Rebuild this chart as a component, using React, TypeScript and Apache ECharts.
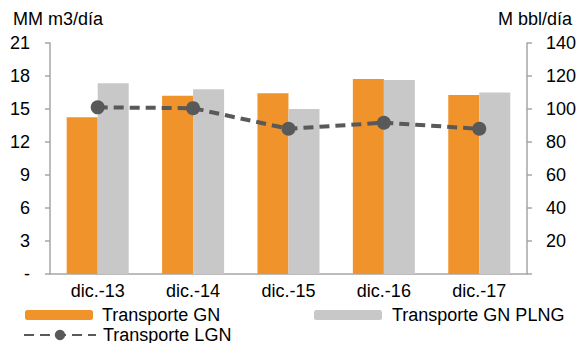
import React, { useEffect, useRef } from "react";
import * as echarts from "echarts";

const categories = ["dic.-13", "dic.-14", "dic.-15", "dic.-16", "dic.-17"];
const transporteGN = [14.25, 16.2, 16.43, 17.73, 16.27];
const transportePLNG = [17.34, 16.8, 15.0, 17.64, 16.5];
const transporteLGN = [101, 100.5, 88, 91.7, 88];

const FONT = "'Liberation Sans', Arial, sans-serif";
const FS = 18;

export default function App() {
  const ref = useRef<HTMLDivElement>(null);
  useEffect(() => {
    const chart = echarts.init(ref.current!, null, { renderer: "svg" });
    const axisLine = { show: true, lineStyle: { color: "#a6a6a6", width: 1.5 } };
    const tick = { show: true, length: 5, lineStyle: { color: "#a6a6a6", width: 1.5 } };
    const text = { color: "#000", fontSize: FS, fontFamily: FONT };
    chart.setOption({
      animation: false,
      textStyle: { fontFamily: FONT },
      grid: { left: 50, right: 50, top: 43, bottom: 69 },
      xAxis: {
        type: "category",
        data: categories,
        axisLine,
        axisTick: { show: false },
        axisLabel: { ...text, margin: 8 },
      },
      yAxis: [
        {
          type: "value",
          min: 0,
          max: 21,
          interval: 3,
          name: "MM m3/día",
          nameLocation: "end",
          nameGap: 15,
          nameTextStyle: { ...text, align: "left", padding: [0, 0, 0, -37] },
          axisLine,
          axisTick: tick,
          splitLine: { show: false },
          axisLabel: {
            ...text,
            margin: 20,
            formatter: (v: number) => (v === 0 ? "-" : String(v)),
          },
        },
        {
          type: "value",
          min: 0,
          max: 140,
          interval: 20,
          position: "right",
          name: "M bbl/día",
          nameLocation: "end",
          nameGap: 15,
          nameTextStyle: { ...text, align: "right", padding: [0, -45, 0, 0] },
          axisLine,
          axisTick: tick,
          splitLine: { show: false },
          axisLabel: {
            ...text,
            margin: 19,
            formatter: (v: number) => (v === 0 ? "" : String(v)),
          },
        },
      ],
      legend: [
        {
          data: ["Transporte GN"],
          left: 25,
          top: 306,
          padding: 0,
          itemWidth: 68,
          itemHeight: 10,
          textStyle: { ...text, padding: [0, 0, 0, 4] },
        },
        {
          data: ["Transporte GN PLNG"],
          left: 314,
          top: 306,
          padding: 0,
          itemWidth: 68,
          itemHeight: 10,
          textStyle: { ...text, padding: [0, 0, 0, 5] },
        },
        {
          data: ["Transporte LGN"],
          left: 23,
          top: 326,
          padding: 0,
          itemWidth: 72,
          itemHeight: 13,
          textStyle: { ...text, padding: [0, 0, 0, 2] },
        },
      ],
      series: [
        {
          name: "Transporte GN",
          type: "bar",
          data: transporteGN,
          barGap: "0%",
          barCategoryGap: "35%",
          itemStyle: { color: "#f0932b" },
        },
        {
          name: "Transporte GN PLNG",
          type: "bar",
          data: transportePLNG,
          itemStyle: { color: "#c8c8c8" },
        },
        {
          name: "Transporte LGN",
          type: "line",
          yAxisIndex: 1,
          data: transporteLGN,
          symbol: "circle",
          symbolSize: 14,
          itemStyle: { color: "#595959" },
          lineStyle: { color: "#595959", width: 4, type: [10, 6] },
        },
      ],
    });
    return () => chart.dispose();
  }, []);
  return <div ref={ref} style={{ width: 579, height: 343, position: "absolute", left: 0, top: 0 }} />;
}
